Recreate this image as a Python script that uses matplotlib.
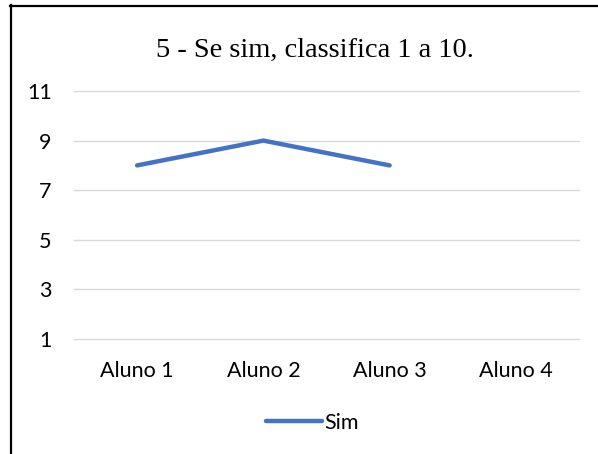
import numpy as np
import matplotlib.pyplot as plt
from matplotlib.lines import Line2D

categories = ['Aluno 1', 'Aluno 2', 'Aluno 3', 'Aluno 4']
sim = [8, 9, 8, np.nan]
y_ticks = [1, 3, 5, 7, 9, 11]

fig = plt.figure(figsize=(5.98, 4.54), dpi=100)
ax = fig.add_axes([74 / 598, 1 - 339 / 454, 505 / 598, 248 / 454])

x = np.arange(len(categories))
ax.plot(x, sim, color='#4472C4', linewidth=3.2, solid_capstyle='round', label='Sim')

ax.set_xlim(-0.5, 3.5)
ax.set_ylim(1, 11)
ax.set_yticks(y_ticks)
ax.set_xticks(x)
ax.set_xticklabels(categories)
ax.grid(axis='y', color='#D9D9D9', linewidth=1.0)
ax.set_axisbelow(True)
for gl in ax.get_ygridlines():
    gl.set_clip_on(False)
for s in ax.spines.values():
    s.set_visible(False)
ax.tick_params(length=0, labelsize=15.5)
ax.tick_params(axis='x', pad=16)
ax.tick_params(axis='y', pad=16)
for lab in ax.get_xticklabels() + ax.get_yticklabels():
    lab.set_family('Lato')

fig.text(315 / 598, 1 - 50 / 454, '5 - Se sim, classifica 1 a 10.', ha='center', va='center',
         fontsize=20.5, family='Liberation Serif')

leg = fig.legend(handles=[Line2D([], [], color='#4472C4', linewidth=3.2, solid_capstyle='round')],
                 labels=['Sim'], loc='center', bbox_to_anchor=(312 / 598, 1 - 423 / 454),
                 frameon=False, handlelength=2.6, handletextpad=0.1,
                 prop={'family': 'Lato', 'size': 15.5})

# border (left and top only visible)
fig.add_artist(Line2D([11 / 598, 11 / 598], [0, 1 - 5 / 454], color='black', linewidth=1.6,
                      transform=fig.transFigure))
fig.add_artist(Line2D([10 / 598, 1], [1 - 5.5 / 454, 1 - 5.5 / 454], color='black', linewidth=1.6,
                      transform=fig.transFigure))

fig.savefig('out.png', dpi=100)
